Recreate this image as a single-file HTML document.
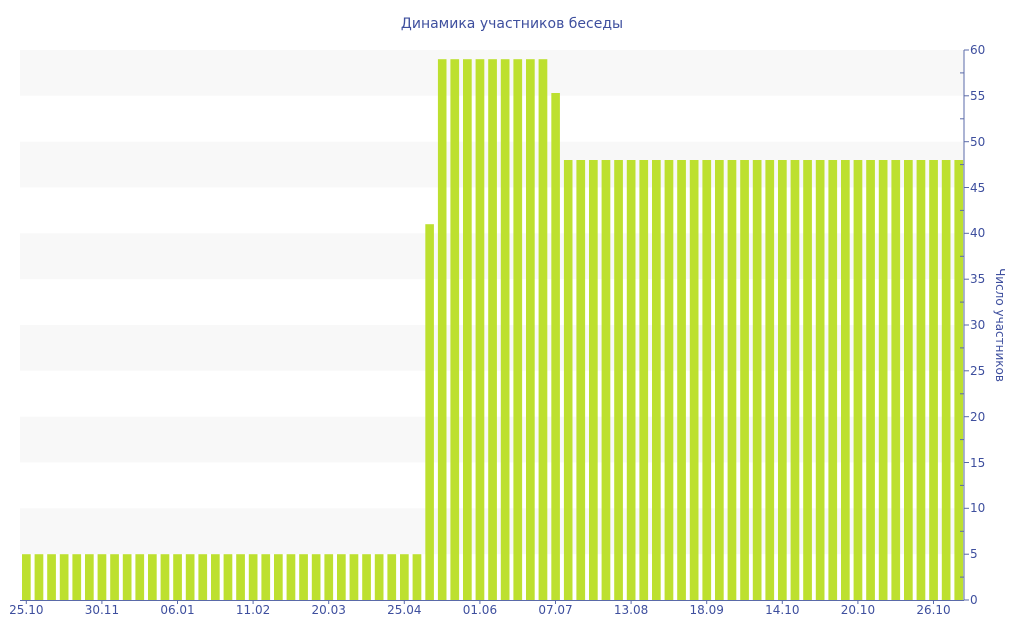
<!DOCTYPE html>
<html><head><meta charset="utf-8"><style>body{margin:0;background:#fff}svg{display:block;font-family:"DejaVu Sans","Liberation Sans",sans-serif}</style></head>
<body>
<svg width="1024" height="640" viewBox="0 0 1024 640">
<defs>
<pattern id="p" patternUnits="userSpaceOnUse" x="22" y="0" width="12.6" height="640"><rect x="0" y="0" width="8.7" height="640" fill="#bde02f"/></pattern>
</defs>
<g fill="#f8f8f8">
<rect x="20" y="50" width="944" height="45.8"/>
<rect x="20" y="141.7" width="944" height="45.8"/>
<rect x="20" y="233.3" width="944" height="45.8"/>
<rect x="20" y="325" width="944" height="45.8"/>
<rect x="20" y="416.7" width="944" height="45.8"/>
<rect x="20" y="508.3" width="944" height="45.8"/>
</g>
<g fill="url(#p)">
<rect x="22" y="554.2" width="403" height="45.8"/>
<rect x="425.2" y="224.2" width="10" height="375.8"/>
<rect x="437.8" y="59.2" width="113" height="540.8"/>
<rect x="551.2" y="93" width="10" height="507"/>
<rect x="563.8" y="160" width="400" height="440"/>
</g>
<text x="512" y="28" text-anchor="middle" font-size="14" fill="#3e4f9e">Динамика участников беседы</text>
<g stroke="#5a6aa8" stroke-width="1">
<line x1="964" y1="50" x2="964" y2="600"/>
<line x1="20" y1="600.5" x2="964" y2="600.5"/>
</g>
<g stroke="#5a6aa8">
<line x1="964" y1="50" x2="969" y2="50"/><line x1="964" y1="95.8" x2="969" y2="95.8"/><line x1="964" y1="141.7" x2="969" y2="141.7"/><line x1="964" y1="187.5" x2="969" y2="187.5"/><line x1="964" y1="233.3" x2="969" y2="233.3"/><line x1="964" y1="279.2" x2="969" y2="279.2"/><line x1="964" y1="325" x2="969" y2="325"/><line x1="964" y1="370.8" x2="969" y2="370.8"/><line x1="964" y1="416.7" x2="969" y2="416.7"/><line x1="964" y1="462.5" x2="969" y2="462.5"/><line x1="964" y1="508.3" x2="969" y2="508.3"/><line x1="964" y1="554.2" x2="969" y2="554.2"/><line x1="964" y1="600" x2="969" y2="600"/>
<line x1="960" y1="72.9" x2="964" y2="72.9"/><line x1="960" y1="118.8" x2="964" y2="118.8"/><line x1="960" y1="164.6" x2="964" y2="164.6"/><line x1="960" y1="210.4" x2="964" y2="210.4"/><line x1="960" y1="256.3" x2="964" y2="256.3"/><line x1="960" y1="302.1" x2="964" y2="302.1"/><line x1="960" y1="347.9" x2="964" y2="347.9"/><line x1="960" y1="393.8" x2="964" y2="393.8"/><line x1="960" y1="439.6" x2="964" y2="439.6"/><line x1="960" y1="485.4" x2="964" y2="485.4"/><line x1="960" y1="531.3" x2="964" y2="531.3"/><line x1="960" y1="577.1" x2="964" y2="577.1"/>
<line x1="26.3" y1="600" x2="26.3" y2="604"/><line x1="101.9" y1="600" x2="101.9" y2="604"/><line x1="177.5" y1="600" x2="177.5" y2="604"/><line x1="253.1" y1="600" x2="253.1" y2="604"/><line x1="328.7" y1="600" x2="328.7" y2="604"/><line x1="404.3" y1="600" x2="404.3" y2="604"/><line x1="479.9" y1="600" x2="479.9" y2="604"/><line x1="555.5" y1="600" x2="555.5" y2="604"/><line x1="631.1" y1="600" x2="631.1" y2="604"/><line x1="706.7" y1="600" x2="706.7" y2="604"/><line x1="782.3" y1="600" x2="782.3" y2="604"/><line x1="857.9" y1="600" x2="857.9" y2="604"/><line x1="933.5" y1="600" x2="933.5" y2="604"/>
</g>
<g font-size="12" fill="#3e4f9e">
<text x="970" y="54">60</text><text x="970" y="100">55</text><text x="970" y="146">50</text><text x="970" y="192">45</text><text x="970" y="237">40</text><text x="970" y="283">35</text><text x="970" y="329">30</text><text x="970" y="375">25</text><text x="970" y="421">20</text><text x="970" y="467">15</text><text x="970" y="512">10</text><text x="970" y="558">5</text><text x="970" y="604">0</text>
</g>
<g font-size="12" fill="#3e4f9e" text-anchor="middle">
<text x="26.3" y="614">25.10</text><text x="101.9" y="614">30.11</text><text x="177.5" y="614">06.01</text><text x="253.1" y="614">11.02</text><text x="328.7" y="614">20.03</text><text x="404.3" y="614">25.04</text><text x="479.9" y="614">01.06</text><text x="555.5" y="614">07.07</text><text x="631.1" y="614">13.08</text><text x="706.7" y="614">18.09</text><text x="782.3" y="614">14.10</text><text x="857.9" y="614">20.10</text><text x="933.5" y="614">26.10</text>
</g>
<text transform="translate(996,325) rotate(90)" text-anchor="middle" font-size="12" fill="#3e4f9e">Число участников</text>
</svg>
</body></html>
